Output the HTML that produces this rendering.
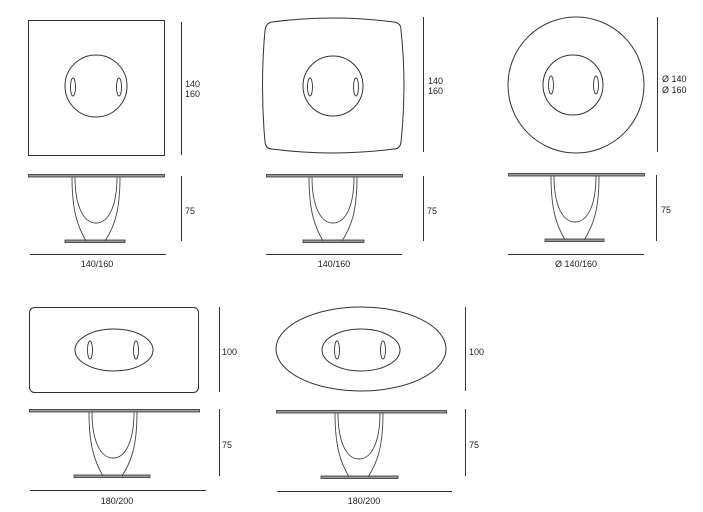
<!DOCTYPE html>
<html><head><meta charset="utf-8"><style>
html,body{margin:0;padding:0;background:#fff;}
svg{display:block;}
text{font-family:"Liberation Sans",sans-serif;font-size:9px;fill:#222;}
</style></head><body>
<svg width="703" height="512" viewBox="0 0 703 512" xmlns="http://www.w3.org/2000/svg">
<defs>
<g id="slot"><ellipse cx="0" cy="0" rx="2.5" ry="9" fill="none" stroke="#333" stroke-width="0.9"/></g>
<g id="leg" fill="none" stroke="#444" stroke-width="0.9">
<path d="M-24 0 C-24 35,-18 50,-10 64"/>
<path d="M24 0 C24 35,18 50,9 64"/>
<path d="M-21 0 C-21 28,-13 46,0 46 C13 46,21 28,21 0"/>
</g>
</defs>
<g fill="none" stroke="#333" stroke-width="1">
<!-- Fig1 -->
<rect x="28.5" y="20.5" width="136" height="135"/>
<circle cx="96" cy="86" r="31"/>
<line x1="181.5" y1="22" x2="181.5" y2="155"/>
<!-- Fig2 -->
<path d="M272 22 Q333 14 394 22 Q401 23 401 30 Q407 86 401 142 Q400 149 394 149 Q333 157 272 149 Q266 149 265 142 Q260 86 265 30 Q266 23 272 22 Z"/>
<circle cx="333" cy="86" r="30"/>
<line x1="423.5" y1="17" x2="423.5" y2="152"/>
<!-- Fig3 -->
<circle cx="576" cy="85" r="68"/>
<circle cx="573" cy="85" r="30"/>
<line x1="657.5" y1="17" x2="657.5" y2="152"/>
<!-- Fig4 -->
<rect x="29.5" y="307.5" width="169" height="85" rx="5"/>
<ellipse cx="114" cy="350" rx="39" ry="21"/>
<line x1="219.5" y1="307" x2="219.5" y2="392"/>
<!-- Fig5 -->
<ellipse cx="361" cy="349" rx="85" ry="42"/>
<ellipse cx="361" cy="350" rx="39" ry="21"/>
<line x1="465.5" y1="307" x2="465.5" y2="391"/>
<!-- side dims -->
<line x1="181.5" y1="176" x2="181.5" y2="241"/>
<line x1="423.5" y1="176" x2="423.5" y2="241"/>
<line x1="656.5" y1="175" x2="656.5" y2="241"/>
<line x1="219.5" y1="409" x2="219.5" y2="476"/>
<line x1="465.5" y1="409" x2="465.5" y2="476"/>
<!-- bottom dims -->
<line x1="30" y1="254.5" x2="166" y2="254.5"/>
<line x1="266" y1="254.5" x2="402" y2="254.5"/>
<line x1="508" y1="254.5" x2="644" y2="254.5"/>
<line x1="30" y1="490.5" x2="206" y2="490.5"/>
<line x1="277" y1="491.5" x2="452" y2="491.5"/>
</g>
<!-- slots -->
<use href="#slot" x="73" y="87"/><use href="#slot" x="119" y="87"/>
<use href="#slot" x="310" y="87"/><use href="#slot" x="356" y="87"/>
<use href="#slot" x="551" y="85"/><use href="#slot" x="596" y="85"/>
<use href="#slot" x="90" y="350"/><use href="#slot" x="136" y="350"/>
<use href="#slot" x="337" y="350"/><use href="#slot" x="383" y="350"/>
<!-- tops -->
<g fill="#999" stroke="#333" stroke-width="0.8">
<rect x="28.5" y="174.5" width="136" height="2.5"/>
<rect x="266.5" y="174.5" width="136" height="2.5"/>
<rect x="508.5" y="173.5" width="136" height="2.5"/>
<rect x="29.5" y="409.5" width="170" height="2.5"/>
<rect x="276.5" y="410.5" width="170" height="2.5"/>
<!-- bases -->
<rect x="65" y="240" width="60" height="2.5"/>
<rect x="303" y="240" width="61" height="2.5"/>
<rect x="545" y="239" width="59" height="2.5"/>
<rect x="74" y="475" width="76" height="2.5"/>
<rect x="321" y="476" width="77" height="2.5"/>
</g>
<!-- legs -->
<use href="#leg" x="96" y="177"/>
<use href="#leg" x="333" y="177"/>
<use href="#leg" x="575" y="176"/>
<use href="#leg" x="113" y="412"/>
<use href="#leg" x="359" y="413"/>
<!-- text -->
<text x="185" y="87">140</text><text x="185" y="97">160</text>
<text x="428" y="84">140</text><text x="428" y="94">160</text>
<text x="662" y="82">Ø 140</text><text x="662" y="93">Ø 160</text>
<text x="222" y="355">100</text>
<text x="469" y="355">100</text>
<text x="185" y="214">75</text>
<text x="427" y="214">75</text>
<text x="661" y="213">75</text>
<text x="222" y="448">75</text>
<text x="469" y="448">75</text>
<text x="97" y="267" text-anchor="middle">140/160</text>
<text x="334" y="267" text-anchor="middle">140/160</text>
<text x="576" y="267" text-anchor="middle">Ø 140/160</text>
<text x="117" y="504" text-anchor="middle">180/200</text>
<text x="364" y="504" text-anchor="middle">180/200</text>
</svg>
</body></html>
